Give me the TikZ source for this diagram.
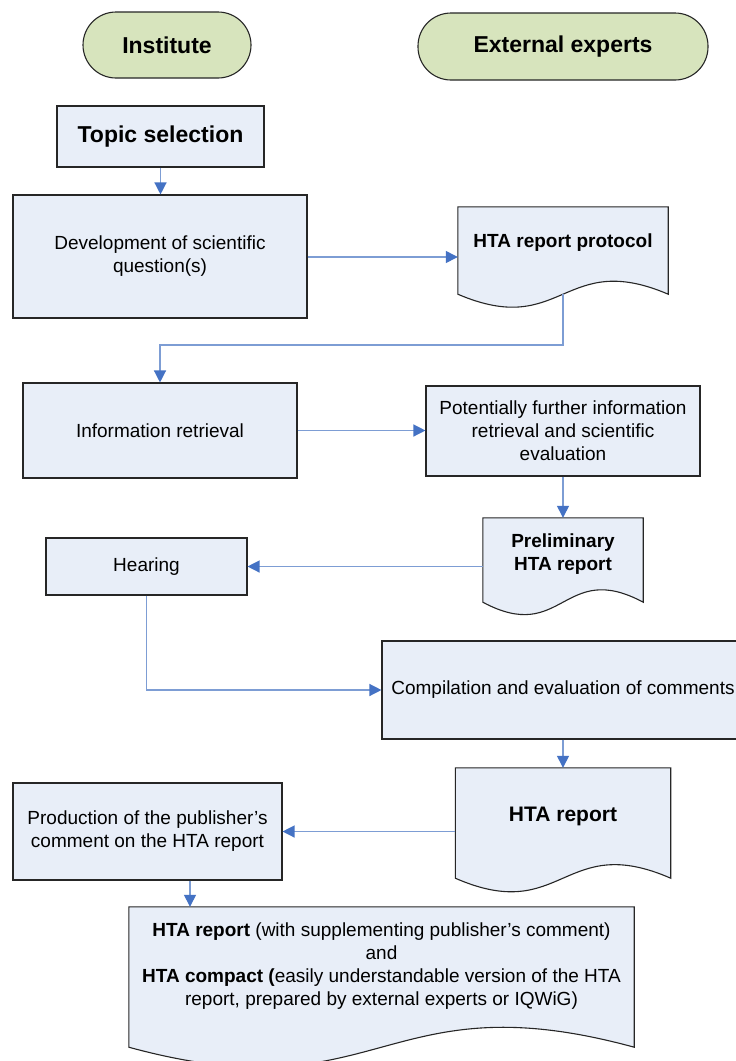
\documentclass[tikz,border=0pt]{standalone}
\usepackage{fontspec}
\setmainfont{Liberation Sans}
\usetikzlibrary{arrows.meta,calc}
\definecolor{boxfill}{RGB}{232,238,248}
\definecolor{pillfill}{RGB}{215,228,189}
\definecolor{linkblue}{RGB}{125,157,212}
\definecolor{headblue}{RGB}{68,114,196}
\definecolor{edgecol}{RGB}{38,38,38}
\tikzset{
 every node/.style={font=\fontsize{19}{23}\selectfont, align=center, inner sep=0pt},
 procbox/.style={draw=edgecol, line width=1.1pt, fill=boxfill, rectangle},
 pill/.style={draw=edgecol, line width=1.1pt, fill=pillfill, rectangle, rounded corners=33pt, font=\fontsize{23}{27}\selectfont\bfseries},
 docframe/.style={rectangle, draw=none},
 docline/.style={draw=edgecol, line width=1.1pt, fill=boxfill},
 link/.style={draw=linkblue, line width=1.3pt, -{Triangle[width=12pt,length=12pt,color=headblue]}},
}
\newcommand\docpath[2]{\path[docline] (#1.north west) -- (#1.north east) -- (#1.south east)
 .. controls ($(#1.south east)!0.5!(#1.south west)+(0,-#2)$) and ($(#1.south east)!0.5!(#1.south west)+(0,#2)$) .. (#1.south west) -- cycle;}
\begin{document}
\begin{tikzpicture}[x=1pt,y=-1pt]
\useasboundingbox (0,0) rectangle (736,1061);
\clip (0,0) rectangle (736,1061);
\fill[white] (0,0) rectangle (736,1061);
% headers
\node[pill, minimum width=168pt, minimum height=66pt] (inst) at (167,45) {Institute};
\node[pill, minimum width=290pt, minimum height=67pt] (ext) at (563,46.5) {External experts};
% process boxes
\node[procbox, minimum width=207pt, minimum height=61pt, font=\fontsize{23}{27}\selectfont\bfseries] (topic) at (160.5,136.5) {Topic selection};
\node[procbox, minimum width=294pt, minimum height=123pt] (dev) at (160,256.5) {Development of scientific\\question(s)};
\node[procbox, minimum width=274pt, minimum height=95pt] (ir) at (160,430.5) {Information retrieval};
\node[procbox, minimum width=274pt, minimum height=90pt] (pot) at (563,431) {Potentially further information\\retrieval and scientific\\evaluation};
\node[procbox, minimum width=201pt, minimum height=57pt] (hear) at (146.5,566.5) {Hearing};
\node[procbox, minimum width=362pt, minimum height=98pt] (comp) at (563,690) {Compilation and evaluation of comments};
\node[procbox, minimum width=269pt, minimum height=97pt] (prod) at (147.5,831.5) {Production of the publisher’s\\comment on the HTA report};
% document frames
\node[docframe, minimum width=210pt, minimum height=87pt] (proto) at (563,250.5) {};
\node[docframe, minimum width=160pt, minimum height=84pt] (prelim) at (563,560) {};
\node[docframe, minimum width=215pt, minimum height=110pt] (hta) at (563,823) {};
\node[docframe, minimum width=505pt, minimum height=140pt] (final) at (381.5,977) {};
\docpath{proto}{45}
\docpath{prelim}{43}
\docpath{hta}{47}
\docpath{final}{69}
\node (protot) at (563,243) {\bfseries HTA report protocol};
\node (prelimt) at (563,554) {\bfseries Preliminary\\\bfseries HTA report};
\node[font=\fontsize{21}{25}\selectfont\bfseries] (htat) at (563,816) {HTA report};
\node (finalt) at (381.5,966) {\textbf{HTA report} (with supplementing publisher’s comment)\\and\\\textbf{HTA compact (}easily understandable version of the HTA\\report, prepared by external experts or IQWiG)};
% connectors
\coordinate (bend1) at (160,345);
\draw[link] (topic.south) -- (topic.south |- dev.north);
\draw[link] (dev.east |- 0,257) -- (proto.west |- 0,257);
\draw[link] (proto.south) |- (bend1) -- (ir.north);
\draw[link] (ir.east) -- (ir.east -| pot.west);
\draw[link] (pot.south) -- (prelim.north);
\draw[link] (hear.east -| prelim.west) -- (hear.east);
\draw[link] (hear.south) |- (comp.west);
\draw[link] (comp.south) -- (comp.south |- hta.north);
\draw[link] (prod.east -| hta.west) -- (prod.east);
\draw[link] ([xshift=42.5pt]prod.south) -- ([xshift=42.5pt]prod.south |- final.north);
\end{tikzpicture}
\end{document}
